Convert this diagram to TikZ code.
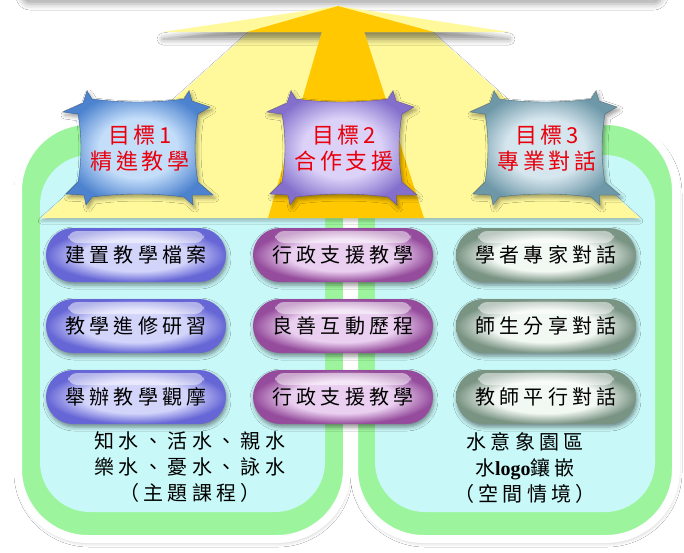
\documentclass[tikz,border=0pt]{standalone}
\usepackage{fontspec}
\newfontfamily\cjk[LetterSpace=22]{Noto Sans CJK TC}
\newfontfamily\cjkgoal[LetterSpace=16]{Noto Sans CJK TC}
\newfontfamily\latinserif{Liberation Serif}
\usetikzlibrary{shadows.blur}
\definecolor{lyellow}{HTML}{FFF99C}
\definecolor{gold}{HTML}{FFC800}
\definecolor{pgreen}{HTML}{9CF59C}
\definecolor{pcyan}{HTML}{C9F8F8}
\definecolor{goalred}{HTML}{E8000C}
\definecolor{pAin}{HTML}{D2D4FA}
\definecolor{pAout}{HTML}{6666D6}
\definecolor{pBin}{HTML}{EACFF0}
\definecolor{pBout}{HTML}{954C9C}
\definecolor{pCin}{HTML}{F2F8F2}
\definecolor{pCout}{HTML}{7A9484}
\definecolor{sAin}{HTML}{C4DEFA}
\definecolor{sAout}{HTML}{4C82CE}
\definecolor{sBin}{HTML}{DCD2F8}
\definecolor{sBout}{HTML}{8470CC}
\definecolor{sCin}{HTML}{D6E6EE}
\definecolor{sCout}{HTML}{6E98A8}
\pgfdeclareradialshading{shA}{\pgfpoint{0bp}{0bp}}{color(0bp)=(pAin); color(15bp)=(pAin); color(25bp)=(pAout); color(50bp)=(pAout)}
\pgfdeclareradialshading{shB}{\pgfpoint{0bp}{0bp}}{color(0bp)=(pBin); color(15bp)=(pBin); color(25bp)=(pBout); color(50bp)=(pBout)}
\pgfdeclareradialshading{shC}{\pgfpoint{0bp}{0bp}}{color(0bp)=(pCin); color(15bp)=(pCin); color(25bp)=(pCout); color(50bp)=(pCout)}
\pgfdeclareradialshading{stA}{\pgfpoint{0bp}{0bp}}{color(0bp)=(sAin); color(13bp)=(sAin); color(25bp)=(sAout); color(50bp)=(sAout)}
\pgfdeclareradialshading{stB}{\pgfpoint{0bp}{0bp}}{color(0bp)=(sBin); color(13bp)=(sBin); color(25bp)=(sBout); color(50bp)=(sBout)}
\pgfdeclareradialshading{stC}{\pgfpoint{0bp}{0bp}}{color(0bp)=(sCin); color(13bp)=(sCin); color(25bp)=(sCout); color(50bp)=(sCout)}
\newcommand\goalstar[4]{%
  \begin{scope}[shift={(#1,#2)}]
  \path[shade, shading=#3, draw=#4!75!black, line width=0.4pt,
        blur shadow={shadow xshift=2pt, shadow yshift=-3pt, shadow blur radius=4pt, shadow opacity=40}]
   (-46,-49) .. controls (-15,-45) and (15,-45) .. (46,-49)
   -- (51,-57) -- (54,-47) -- (72,-41) -- (60,-34)
   .. controls (56,-12) and (56,12) .. (60,34)
   -- (75,47) -- (54,47) -- (55,57) -- (46,49)
   .. controls (15,45) and (-15,45) .. (-46,49)
   -- (-52,57) -- (-54,47) -- (-72,46) -- (-60,34)
   .. controls (-56,12) and (-56,-12) .. (-60,-34)
   -- (-75,-36) -- (-55,-45) -- (-51,-57) -- cycle;
  \end{scope}}
\tikzset{
  panel/.style={fill=pgreen, draw=white, line width=8pt, rounded corners=70pt,
    blur shadow={shadow xshift=1pt, shadow yshift=-3pt, shadow blur radius=5pt, shadow opacity=30}},
  inner/.style={fill=pcyan, rounded corners=50pt},
  pillbase/.style={rounded corners=27pt, minimum width=180pt, minimum height=54pt,
    inner sep=0pt, font=\cjk\fontsize{20}{24}\selectfont, text=black, shade,
    blur shadow={shadow xshift=1pt, shadow yshift=-3pt, shadow blur radius=4pt, shadow opacity=45},
    path picture={\fill[white, opacity=.5, rounded corners=9pt]
      ([xshift=22pt, yshift=-3pt]path picture bounding box.north west) rectangle
      ([xshift=-22pt, yshift=-15pt]path picture bounding box.north east);}},
  pillA/.style={pillbase, shading=shA},
  pillB/.style={pillbase, shading=shB},
  pillC/.style={pillbase, shading=shC},
  goaltext/.style={align=center, text=goalred, font=\cjkgoal\fontsize{22}{26}\selectfont, inner sep=0pt},
  bottomtext/.style={align=center, text=black, font=\cjk\fontsize{20}{26}\selectfont, inner sep=0pt}
}
\begin{document}
\begin{tikzpicture}[x=1pt, y=-1pt]
\useasboundingbox (0,0) rectangle (684,552);
\fill[white] (0,0) rectangle (684,552);
% top band (bottom of a shape above)
\fill[white, rounded corners=8pt, blur shadow={shadow xshift=0pt, shadow yshift=-4pt, shadow blur radius=6pt, shadow opacity=35}] (22,-40) rectangle (662,0);
% panels
\path[panel] (18,121) rectangle (347,539);
\path[panel] (354,121) rectangle (676,539);
\path[inner] (40,155) rectangle (325,512);
\path[inner] (375,155) rectangle (655,512);
% arrow
\fill[lyellow, blur shadow={shadow xshift=0pt, shadow yshift=-3pt, shadow blur radius=3pt, shadow opacity=25}] (249,32) -- (432,32) -- (640,218) -- (41,218) -- cycle;
\fill[lyellow, blur shadow={shadow xshift=0pt, shadow yshift=-7pt, shadow blur radius=6pt, shadow opacity=45}] (163,32) -- (338,6) -- (509,32) -- cycle;
\fill[gold] (322,31) -- (364,31) -- (424,218) -- (268,218) -- cycle;
\fill[gold] (247,32) -- (338,6) -- (434,32) -- cycle;
% goal stars
\goalstar{138}{148}{stA}{sAout}
\goalstar{342}{148}{stB}{sBout}
\goalstar{545}{148}{stC}{sCout}
\node[goaltext] (g1) at (140,148) {目標1\\精進教學};
\node[goaltext] (g2) at (344,148) {目標2\\合作支援};
\node[goaltext] (g3) at (547,148) {目標3\\專業對話};
% pills
\node[pillA] (a1) at (136,255) {建置教學檔案};
\node[pillA] (a2) at (136,326) {教學進修研習};
\node[pillA] (a3) at (136,397) {舉辦教學觀摩};
\node[pillB] (b1) at (343,255) {行政支援教學};
\node[pillB] (b2) at (343,326) {良善互動歷程};
\node[pillB] (b3) at (343,397) {行政支援教學};
\node[pillC] (c1) at (546,255) {學者專家對話};
\node[pillC] (c2) at (546,326) {師生分享對話};
\node[pillC] (c3) at (546,397) {教師平行對話};
% bottom texts
\node[bottomtext] (t1) at (190,467) {知水、活水、親水\\樂水、憂水、詠水\\（主題課程）};
\node[bottomtext] (t2) at (525,468) {水意象園區\\水{\latinserif\bfseries logo}鑲嵌\\（空間情境）};
\end{tikzpicture}
\end{document}
